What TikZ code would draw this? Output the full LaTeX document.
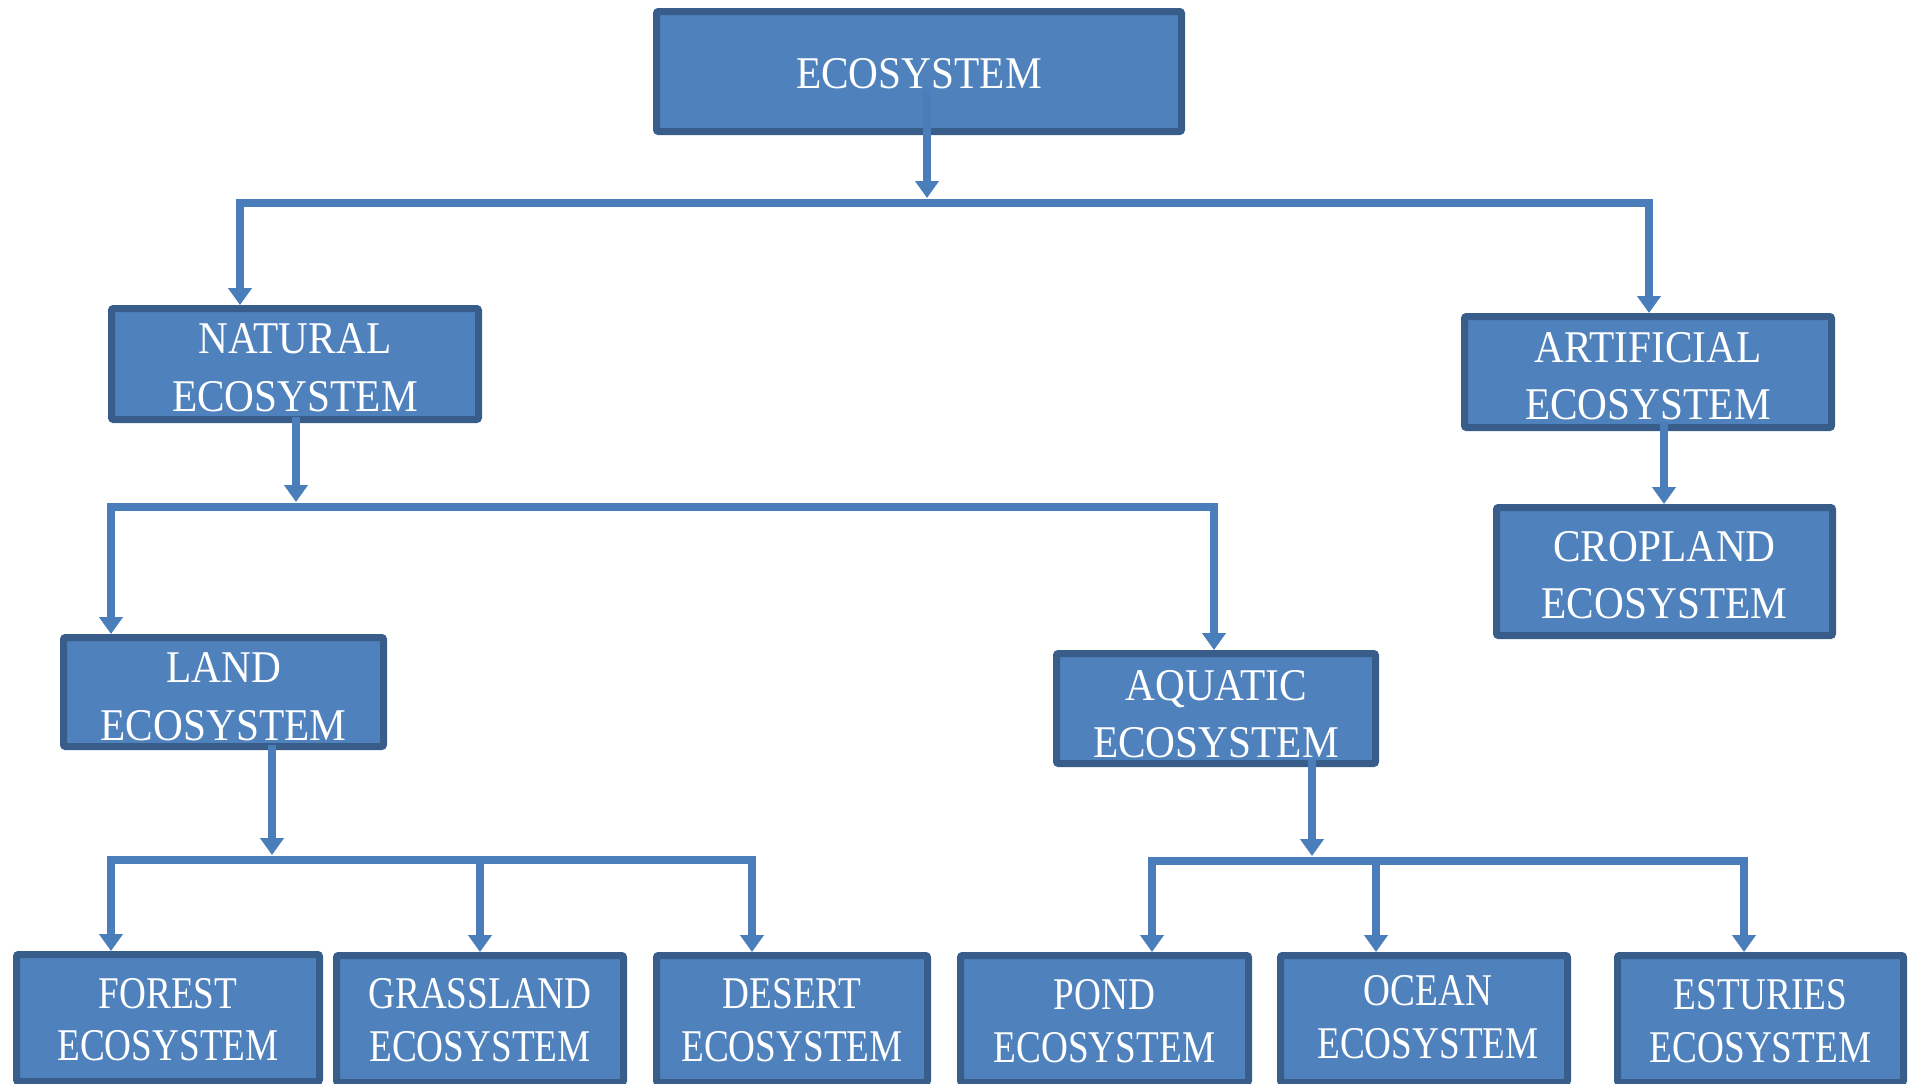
\documentclass[tikz,border=0pt]{standalone}
\usepackage{fontspec}
\setmainfont{Liberation Serif}
\newfontfamily\topfont{Liberation Serif}[FakeStretch=0.91]
\newfontfamily\botfont{Liberation Serif}[FakeStretch=0.82]
\usetikzlibrary{arrows.meta}
\definecolor{boxfill}{HTML}{4F81BD}
\definecolor{boxline}{HTML}{385D8A}
\definecolor{connc}{HTML}{4A7EBB}
\tikzset{
  box/.style={draw=boxline, fill=boxfill, line width=3.5pt, rounded corners=1pt, inner sep=0pt},
  lowbox/.style={box, minimum height=63.5pt},
  uptext/.style={text=white, align=center, inner sep=0pt, font=\topfont\fontsize{22.7}{28.8}\selectfont},
  lowtext/.style={text=white, align=center, inner sep=0pt, font=\botfont\fontsize{22.7}{26.3}\selectfont},
  conn/.style={draw=connc, line width=4pt},
  ctip/.tip={Triangle[width=11.5pt,length=8.5pt]},
}
\begin{document}
\begin{tikzpicture}[x=0.5pt,y=-0.5pt]
\useasboundingbox (0,0) rectangle (1908,1083);
\clip (0,0) rectangle (1908,1083);

% boxes
\node[box, minimum width=262.5pt, minimum height=60pt] (eco) at (919,71.5) {};
\node[box, minimum width=183.5pt, minimum height=55.5pt] (nat) at (295,364) {};
\node[box, minimum width=183.5pt, minimum height=55.5pt] (art) at (1648,372) {};
\node[box, minimum width=168pt, minimum height=64pt] (crop) at (1664.5,571.5) {};
\node[box, minimum width=160pt, minimum height=54.5pt] (land) at (223.5,692) {};
\node[box, minimum width=159.5pt, minimum height=55pt] (aqu) at (1216,708.5) {};

\node[lowbox, minimum width=151.5pt] (forest) at (168,1018) {};
\node[lowbox, minimum width=143.5pt] (grass) at (480,1019) {};
\node[lowbox, minimum width=135.5pt] (desert) at (792,1019) {};
\node[lowbox, minimum width=144pt] (pond) at (1104.5,1019) {};
\node[lowbox, minimum width=143.5pt] (ocean) at (1424,1019) {};
\node[lowbox, minimum width=143pt] (estu) at (1760.5,1019) {};

% texts
\node[uptext] (ecoT) at ([yshift=-1pt]eco.center) {ECOSYSTEM};
\node[uptext] (natT) at ([yshift=-2pt]nat.center) {NATURAL\\ECOSYSTEM};
\node[uptext] (artT) at ([yshift=-2pt]art.center) {ARTIFICIAL\\ECOSYSTEM};
\node[uptext] (cropT) at ([yshift=-1.8pt]crop.center) {CROPLAND\\ECOSYSTEM};
\node[uptext] (landT) at ([yshift=-2.5pt]land.center) {LAND\\ECOSYSTEM};
\node[uptext] (aquT) at ([yshift=-2.8pt]aqu.center) {AQUATIC\\ECOSYSTEM};

\node[lowtext] (forestT) at ([yshift=-0.8pt]forest.center) {FOREST\\ECOSYSTEM};
\node[lowtext] (grassT) at ([yshift=-0.5pt]grass.center) {GRASSLAND\\ECOSYSTEM};
\node[lowtext] (desertT) at ([yshift=-0.5pt]desert.center) {DESERT\\ECOSYSTEM};
\node[lowtext] (pondT) at ([yshift=-1pt]pond.center) {POND\\ECOSYSTEM};
\node[lowtext] (oceanT) at ([xshift=2pt,yshift=1pt]ocean.center) {OCEAN\\ECOSYSTEM};
\node[lowtext] (estuT) at ([yshift=-1pt]estu.center) {ESTURIES\\ECOSYSTEM};

% junction coordinates
\coordinate (e1) at (927,90);
\coordinate (b1L) at (240,203);
\coordinate (b1M) at (927,203);
\coordinate (b1R) at (1649,203);

\coordinate (n1) at (296,417);
\coordinate (b2L) at (111,507);
\coordinate (b2M) at (296,507);
\coordinate (b2R) at (1214,507);

\coordinate (a1) at (1664,422);

\coordinate (l1) at (272,745);
\coordinate (b3L) at (111,860);
\coordinate (b3M) at (272,860);
\coordinate (b3G) at (480,860);
\coordinate (b3R) at (752,860);

\coordinate (q1) at (1312,760);
\coordinate (b4L) at (1152,861);
\coordinate (b4M) at (1312,861);
\coordinate (b4O) at (1376,861);
\coordinate (b4R) at (1744,861);

% connectors
\draw[conn,-{ctip}] (e1) -- ([yshift=2.5pt]b1M);
\draw[conn,{ctip}-{ctip}] (b1L |- nat.north) -- (b1L) -- (b1R) -- (b1R |- art.north);

\draw[conn,-{ctip}] (n1) -- ([yshift=2.5pt]b2M);
\draw[conn,{ctip}-{ctip}] (b2L |- land.north) -- (b2L) -- (b2R) -- (b2R |- aqu.north);

\draw[conn,-{ctip}] (a1) -- (a1 |- crop.north);

\draw[conn,-{ctip}] (l1) -- ([yshift=2.5pt]b3M);
\draw[conn,{ctip}-{ctip}] (b3L |- forest.north) -- (b3L) -- (b3R) -- (b3R |- desert.north);
\draw[conn,-{ctip}] (b3G) -- (b3G |- grass.north);

\draw[conn,-{ctip}] (q1) -- ([yshift=2.5pt]b4M);
\draw[conn,{ctip}-{ctip}] (b4L |- pond.north) -- (b4L) -- (b4R) -- (b4R |- estu.north);
\draw[conn,-{ctip}] (b4O) -- (b4O |- ocean.north);
\end{tikzpicture}
\end{document}
